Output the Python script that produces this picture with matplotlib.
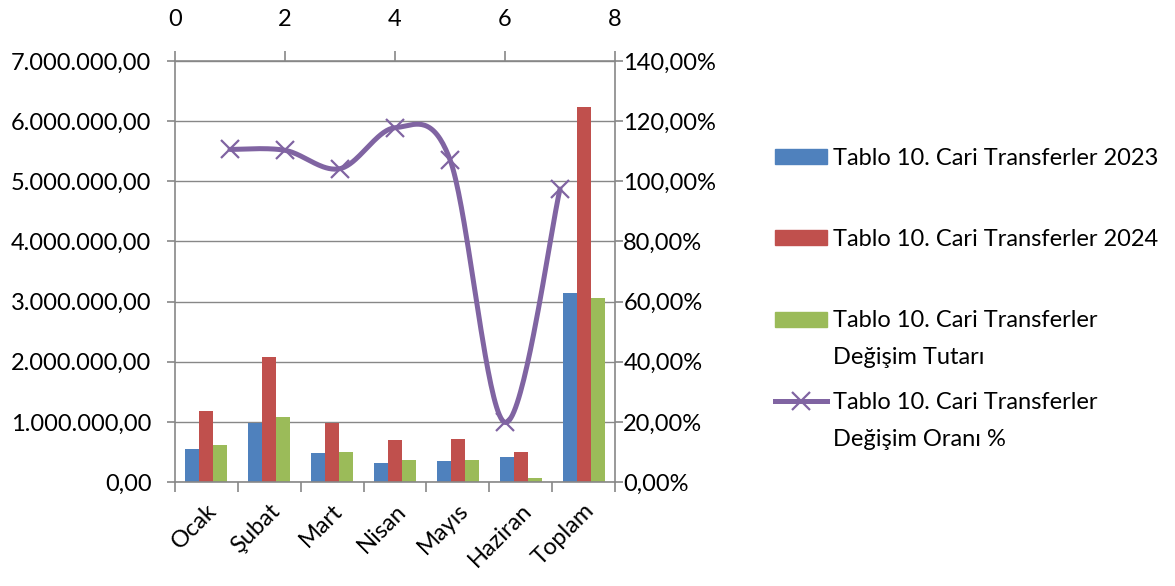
import numpy as np
import matplotlib
matplotlib.use('Agg')
import matplotlib.pyplot as plt
from matplotlib.patches import Patch
from matplotlib.lines import Line2D
from matplotlib.ticker import FuncFormatter, FixedLocator

plt.rcParams['font.family'] = ['Lato', 'DejaVu Sans']

###### DATA ##########
aylar = ['Ocak', 'Şubat', 'Mart', 'Nisan', 'Mayıs', 'Haziran', 'Toplam']
t2023 = [556000, 989000, 478000, 311000, 344000, 411000, 3144000]
t2024 = [1178000, 2078000, 989000, 700000, 722000, 500000, 6233000]
degisim_tutar = [611000, 1078000, 500000, 372000, 372000, 72000, 3067000]
degisim_oran = [110.6, 110.3, 104.2, 117.8, 107.2, 19.8, 97.4]
etiket_ilk = ['Tablo 10. Cari Transferler 2023',
              'Tablo 10. Cari Transferler 2024',
              'Tablo 10. Cari Transferler',
              'Tablo 10. Cari Transferler']
etiket_ikinci = ['', '', 'Değişim Tutarı', 'Değişim Oranı %']
######################

BLUE = '#4F81BD'
RED = '#C0504D'
GREEN = '#9BBB59'
PURPLE = '#8064A2'
GRID = '#878787'
FS = 17


def tr_num(v, pos=None):
    s = '{:,.2f}'.format(v)
    return s.replace(',', 'X').replace('.', ',').replace('X', '.')


def tr_pct(v, pos=None):
    return '{:.2f}%'.format(v).replace('.', ',')


def excel_smooth(xs, ys, n=40):
    # bezier smoothing like excel's "smoothed line"
    p = np.column_stack([xs, ys]).astype(float)
    pts = []
    m = len(p)
    for i in range(m - 1):
        p0 = p[i - 1] if i > 0 else p[i]
        p3 = p[i + 2] if i + 2 < m else p[i + 1]
        b0 = p[i]
        b1 = p[i] + (p[i + 1] - p0) / 6.0
        b2 = p[i + 1] - (p3 - p[i]) / 6.0
        b3 = p[i + 1]
        t = np.linspace(0, 1, n)[:, None]
        seg = ((1 - t) ** 3) * b0 + 3 * ((1 - t) ** 2) * t * b1 + 3 * (1 - t) * t ** 2 * b2 + t ** 3 * b3
        pts.append(seg if i == 0 else seg[1:])
    pts = np.vstack(pts)
    return pts[:, 0], pts[:, 1]


fig = plt.figure(figsize=(11.75, 5.86), dpi=100)
rect = [175 / 1175, 1 - 482 / 586, 440 / 1175, 421 / 586]
ax = fig.add_axes(rect)

x = np.arange(len(aylar))
w = 1 / 4.5
ax.bar(x - w, t2023, w, color=BLUE, zorder=2)
ax.bar(x, t2024, w, color=RED, zorder=2)
ax.bar(x + w, degisim_tutar, w, color=GREEN, zorder=2)

ax.set_xlim(-0.5, len(aylar) - 0.5)
ax.set_ylim(0, 7000000)
ax.set_yticks(np.arange(0, 7000001, 1000000))
ax.yaxis.set_major_formatter(FuncFormatter(tr_num))
ax.grid(axis='y', color=GRID, lw=1.0, zorder=0)
ax.set_axisbelow(True)

ax.xaxis.set_major_locator(FixedLocator(np.arange(-0.5, len(aylar), 1)))
ax.xaxis.set_minor_locator(FixedLocator(x))
ax.set_xticklabels([], minor=False)
ax.set_xticklabels(aylar, minor=True, rotation=45, ha='right', rotation_mode='anchor')
ax.tick_params(axis='x', which='minor', length=0, pad=13, labelsize=FS)
ax.tick_params(axis='x', which='major', length=7, color=GRID, width=1.2)
ax.tick_params(axis='y', length=6, color=GRID, width=1.2, labelsize=FS, pad=11)
for s in ['top', 'right']:
    ax.spines[s].set_visible(False)
for s in ['left', 'bottom']:
    ax.spines[s].set_color(GRID)
    ax.spines[s].set_linewidth(1.2)

# secondary axes for the ratio line
ax2 = fig.add_axes(rect)
ax2.patch.set_visible(False)
ax2.set_xlim(0, 8)
ax2.set_ylim(0, 140)
ax2.set_xticks([0, 2, 4, 6, 8])
ax2.set_yticks(np.arange(0, 141, 20))
ax2.yaxis.set_major_formatter(FuncFormatter(tr_pct))
ax2.xaxis.tick_top()
ax2.yaxis.tick_right()
ax2.tick_params(axis='x', length=7, color=GRID, width=1.2, labelsize=FS, pad=15)
ax2.tick_params(axis='y', length=6, color=GRID, width=1.2, labelsize=FS, pad=0)
for s in ['left', 'bottom']:
    ax2.spines[s].set_visible(False)
for s in ['top', 'right']:
    ax2.spines[s].set_color(GRID)
    ax2.spines[s].set_linewidth(1.2)

xl = np.arange(1, len(degisim_oran) + 1)
sx, sy = excel_smooth(xl, degisim_oran)
ax2.plot(sx, sy, color=PURPLE, lw=3.6, solid_capstyle='round', zorder=3)
ax2.plot(xl, degisim_oran, ls='none', marker='x', ms=13, mew=1.6, color=PURPLE, zorder=4)

handles = [Patch(color=BLUE), Patch(color=RED), Patch(color=GREEN),
           Line2D([], [], color=PURPLE, lw=3.6, marker='x', ms=13, mew=1.6)]
leg = fig.legend(handles, etiket_ilk, loc='upper left', bbox_to_anchor=(775 / 1175, 1 - 148 / 586),
                 frameon=False, fontsize=FS, handlelength=2.2, handleheight=0.6,
                 handletextpad=0.25, labelspacing=2.55, borderpad=0, borderaxespad=0)

# second lines of the wrapped legend labels
fig.canvas.draw()
inv = fig.transFigure.inverted()
for t, ikinci in zip(leg.get_texts(), etiket_ikinci):
    if not ikinci:
        continue
    bb = t.get_window_extent()
    x0, y0 = inv.transform((bb.x0, bb.y0))
    fig.text(x0, y0 - 37 / 586, ikinci, fontsize=FS, ha='left', va='bottom')

fig.savefig('out.png', dpi=100)
